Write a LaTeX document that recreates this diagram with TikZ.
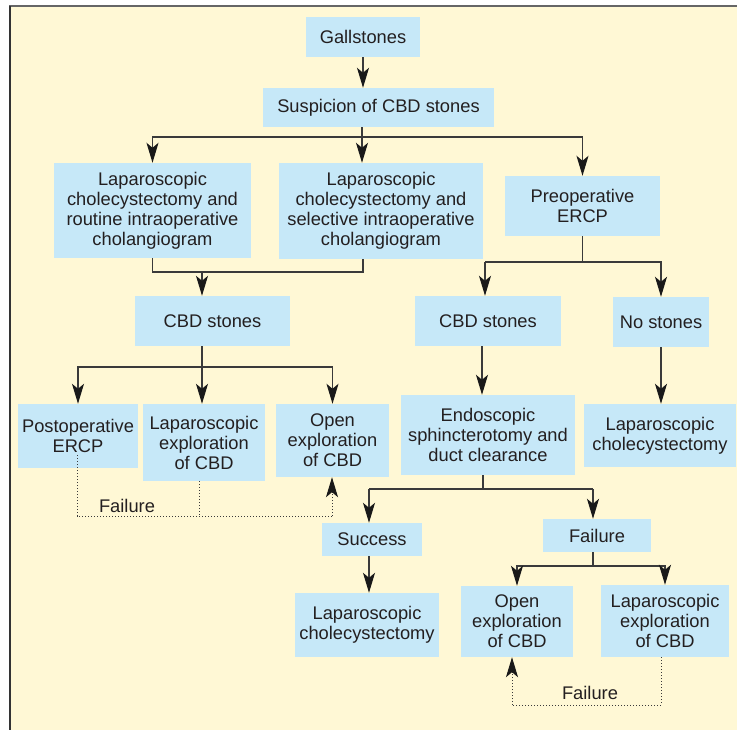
\documentclass[tikz,border=0pt]{standalone}
\usepackage{fontspec}
\setmainfont{Liberation Sans}
\usetikzlibrary{arrows.meta}
\definecolor{bgyellow}{HTML}{FFF8D5}
\definecolor{boxblue}{HTML}{C6E8F8}
\definecolor{txt}{HTML}{231F20}
\definecolor{lncol}{HTML}{3A3A3A}
\tikzset{
  fbox/.style={fill=boxblue, draw=none, inner sep=0pt, align=center, text=txt,
    font=\fontsize{18.3}{20}\selectfont},
  ln/.style={draw=lncol, line width=1.3pt},
  ar/.style={ln, -{Stealth[length=20pt,width=12pt,inset=5pt,color=black!90]}},
  dt/.style={draw=lncol, line width=1pt, dotted},
  dtar/.style={dt, -{Stealth[length=20pt,width=12pt,inset=5pt,color=black!90]}},
  lbl/.style={text=txt, font=\fontsize{18.3}{20}\selectfont, inner sep=0pt}
}
\begin{document}
\begin{tikzpicture}[x=1pt,y=-1pt]
\useasboundingbox (0,0) rectangle (737,730);
% frame
\fill[bgyellow] (9,6) rectangle (737,730);
\draw[draw=gray!80!black, line width=2pt] (9,6.5) -- (737,6.5);
\draw[draw=black!80, line width=2pt] (9.5,6) -- (9.5,730);
% boxes
\node[fbox, minimum width=114pt, minimum height=40pt] (gall) at (363,37) {Gallstones};
\node[fbox, minimum width=231pt, minimum height=39pt] (susp) at (378.5,107.5) {Suspicion of CBD stones};
\node[fbox, minimum width=197pt, minimum height=95pt] (lap1) at (152.5,210.5) {Laparoscopic\\cholecystectomy and\\routine intraoperative\\cholangiogram};
\node[fbox, minimum width=204pt, minimum height=96pt] (lap2) at (381,211) {Laparoscopic\\cholecystectomy and\\selective intraoperative\\cholangiogram};
\node[fbox, minimum width=155pt, minimum height=60pt] (preop) at (582.5,206) {Preoperative\\ERCP};
\node[fbox, minimum width=155pt, minimum height=50pt] (cbdL) at (212.5,321) {CBD stones};
\node[fbox, minimum width=146pt, minimum height=50pt] (cbdR) at (488,321) {CBD stones};
\node[fbox, minimum width=96pt, minimum height=50pt] (nost) at (661,322) {No stones};
\node[fbox, minimum width=120pt, minimum height=64pt] (postop) at (78,436) {Postoperative\\ERCP};
\node[fbox, minimum width=122pt, minimum height=77pt] (lapexpL) at (204,442.5) {Laparoscopic\\exploration\\of CBD};
\node[fbox, minimum width=113pt, minimum height=73pt] (openL) at (332.5,440.5) {Open\\exploration\\of CBD};
\node[fbox, minimum width=174pt, minimum height=80pt] (endo) at (488,435) {Endoscopic\\sphincterotomy and\\duct clearance};
\node[fbox, minimum width=152pt, minimum height=63pt] (lapcholR) at (660,435.5) {Laparoscopic\\cholecystectomy};
\node[fbox, minimum width=100pt, minimum height=33pt] (success) at (372,539.5) {Success};
\node[fbox, minimum width=108pt, minimum height=33pt] (failB) at (597,535.5) {Failure};
\node[fbox, minimum width=144pt, minimum height=64pt] (lapcholB) at (367,625) {Laparoscopic\\cholecystectomy};
\node[fbox, minimum width=112pt, minimum height=71pt] (openR) at (517,621.5) {Open\\exploration\\of CBD};
\node[fbox, minimum width=128pt, minimum height=72pt] (lapexpR) at (665,621) {Laparoscopic\\exploration\\of CBD};
% labels
\node[lbl] (fl1) at (127,506) {Failure};
\node[lbl] (fl2) at (590,692.5) {Failure};
% junction coordinates
\coordinate (t1) at (362,137);
\coordinate (t2) at (202,272);
\coordinate (t2b) at (363,272);
\coordinate (t3) at (202,367);
\coordinate (t4) at (582.5,262);
\coordinate (t4a) at (485,262);
\coordinate (t5) at (482,0);
\coordinate (t6) at (483,489);
\coordinate (t6a) at (369,489);
\coordinate (t6b) at (593,489);
\coordinate (t7) at (593,566);
\coordinate (d1) at (77,516);
\coordinate (d2) at (199,516);
\coordinate (d3) at (332,516);
\coordinate (d4) at (661,705);
\coordinate (d5) at (512,705);
% connectors
\draw[ar] (gall.south) -- (susp.north -| gall.south);
\draw[ln] (susp.south -| t1) -- (t1);
\draw[ar] (t1) -| (lap1.north);
\draw[ar] (t1) -| (preop.north);
\draw[ar] (t1) -- (lap2.north -| t1);
\draw[ln] (lap1.south) |- (t2b) -- (lap2.south -| t2b);
\draw[ar] (t2) -- (cbdL.north -| t2);
\draw[ln] (cbdL.south -| t3) -- (t3);
\draw[ar] (t3) -| (postop.north);
\draw[ar] (t3) -- (lapexpL.north -| t3);
\draw[ar] (t3) -| (openL.north);
\draw[ln] (preop.south) -- (t4);
\draw[ln] (t4) -- (t4a);
\draw[ar] (t4a) -- (cbdR.north -| t4a);
\draw[ar] (t4) -| (nost.north);
\draw[ar] (cbdR.south -| t5) -- (endo.north -| t5);
\draw[ar] (nost.south) -- (lapcholR.north -| nost.south);
\draw[ln] (endo.south -| t6) -- (t6);
\draw[ln] (t6a) -- (t6b);
\draw[ar] (t6a) -- (success.north -| t6a);
\draw[ar] (t6b) -- (failB.north -| t6b);
\draw[ar] (success.south -| t6a) -- (lapcholB.north -| t6a);
\draw[ln] (failB.south -| t7) -- (t7);
\draw[ar] (t7) -| (openR.north);
\draw[ar] (t7) -| (lapexpR.north);
% dotted failure paths
\draw[dt] ([yshift=13pt]postop.south -| d1) -- (d1) -- (d3);
\draw[dt] (lapexpL.south -| d2) -- (d2);
\draw[dtar] (d3) -- (openL.south -| d3);
\draw[dt] (lapexpR.south -| d4) -- (d4) -- (d5);
\draw[dtar] (d5) -- (openR.south -| d5);
\end{tikzpicture}
\end{document}
